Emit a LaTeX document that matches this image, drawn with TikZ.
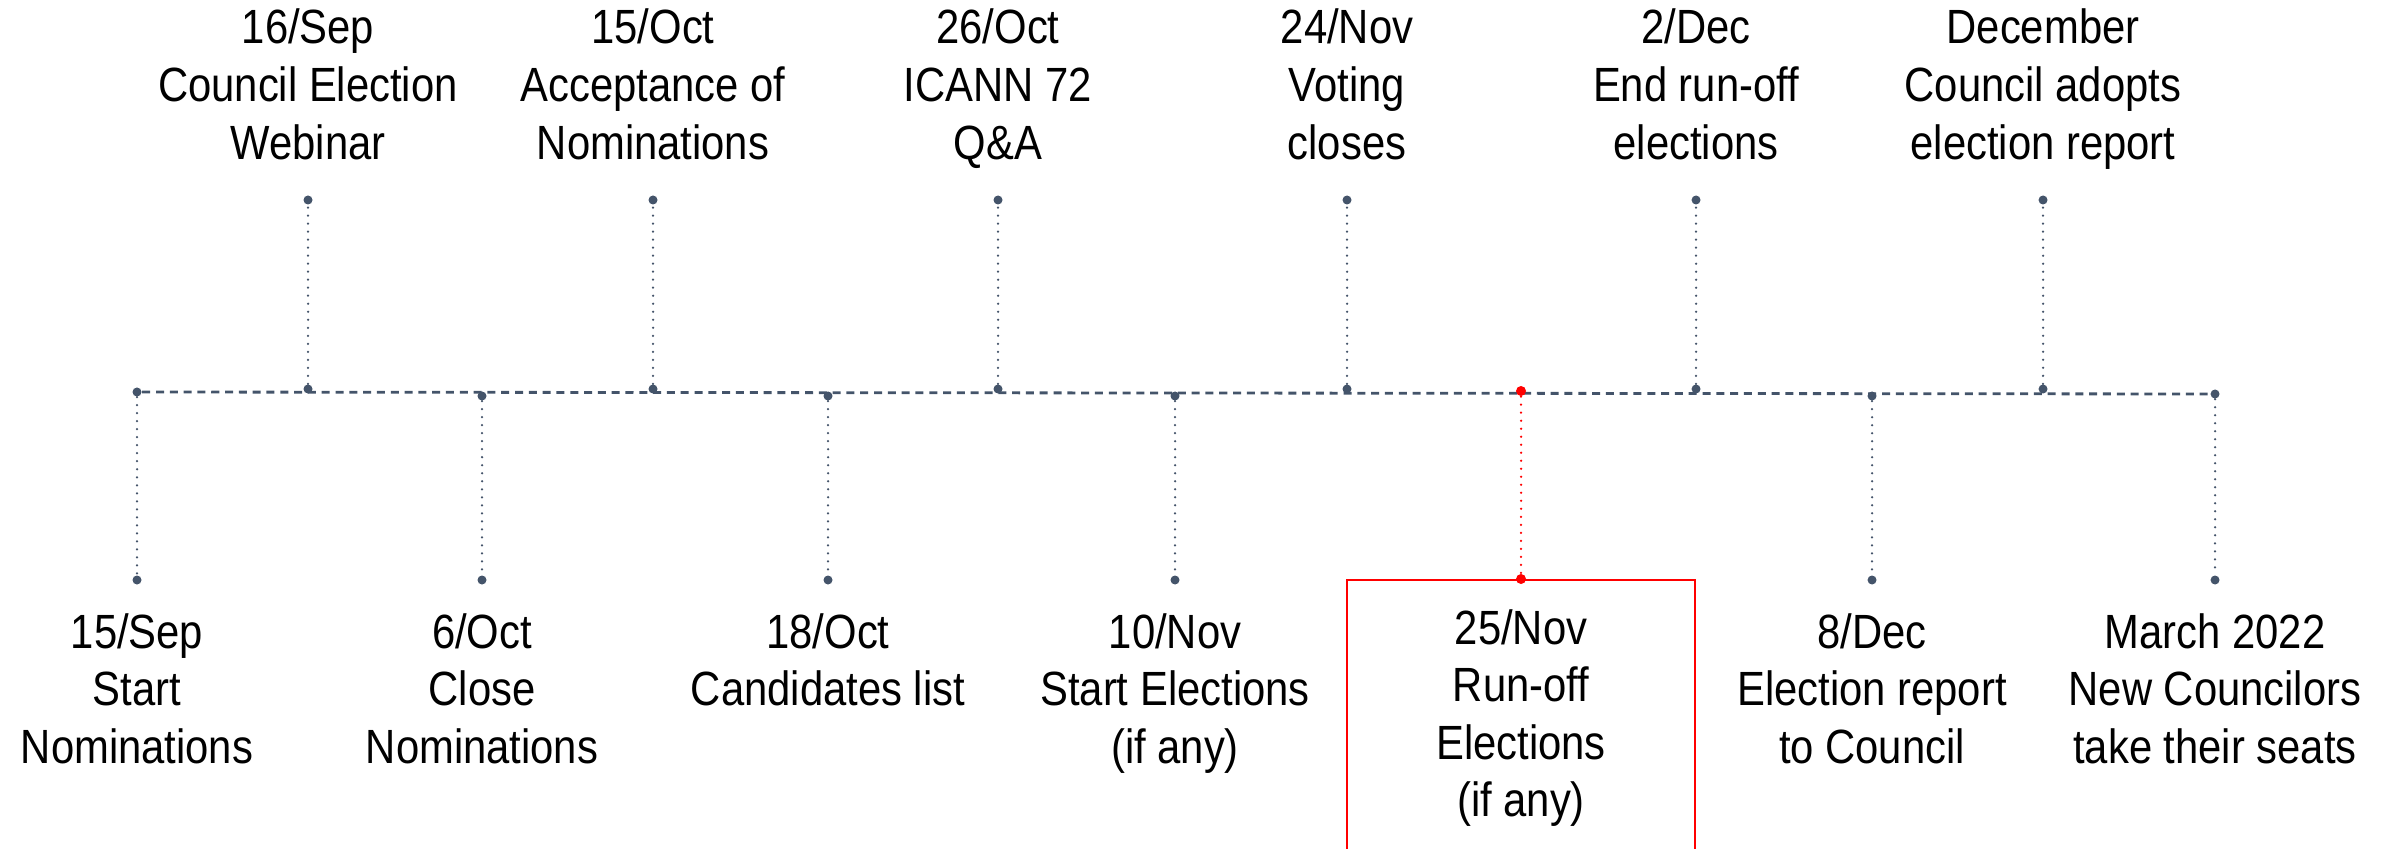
\documentclass[tikz,border=0pt]{standalone}
\usepackage{fontspec}
\setmainfont{Liberation Sans}[FakeStretch=0.87]
\usepackage{tikz}
\usetikzlibrary{positioning,backgrounds}
\usepackage{xcolor}
\definecolor{slate}{HTML}{44546A}
\tikzset{
	tl dot/.style={circle, fill=slate, inner sep=0pt, minimum size=.09cm},
	red dot/.style={circle, fill=red, inner sep=0pt, minimum size=.1cm},
	stem/.style={slate, line width=.025cm, line cap=round, dash pattern=on 0pt off .08cm},
	timeline/.style={slate, line width=.028cm, dash pattern=on .08cm off .058cm},
	up label/.style={align=center, inner sep=0pt},
	down label/.style={align=center, inner sep=0pt},
	run box/.style={draw=red, line width=.022cm, align=center, minimum width=3.48cm, inner xsep=0pt, inner ysep=.256cm}
}
\newcommand{\capstrut}{\rule{0pt}{.8em}}
\newcommand{\descstrut}{\rule[-.25em]{0pt}{0pt}}
\newcommand{\upevent}[3]{
	\node[tl dot] (#1) at (#2,389) {};
	\node[tl dot] (#1top) at (#2,200) {};
	\draw[stem] (#1) -- (#1top);
	\node[up label, above=.23cm of #1top] (#1text) {#3\descstrut};
}
\newcommand{\downevent}[4]{
	\node[tl dot] (#1) at (#2,#3) {};
	\node[tl dot] (#1bot) at (#2,580) {};
	\draw[stem] (#1) -- (#1bot);
	\node[down label, below=.24cm of #1bot] (#1text) {\capstrut#4};
}

\begin{document}
\begin{tikzpicture}[x=.01cm, y=-.01cm, font=\fontsize{13.66pt}{16.36pt}\selectfont]
	\clip (0,0) rectangle (2392,849);
%
	\downevent{e0}{137}{392}{15/Sep\\Start\\Nominations}
	\upevent{e1}{308}{16/Sep\\Council Election\\Webinar}
	\downevent{e2}{482}{396}{6/Oct\\Close\\Nominations}
	\upevent{e3}{653}{15/Oct\\Acceptance of\\Nominations}
	\downevent{e4}{828}{396}{18/Oct\\Candidates list}
	\upevent{e5}{998}{26/Oct\\ICANN 72\\Q\&A}
	\downevent{e6}{1175}{396}{10/Nov\\Start Elections\\(if any)}
	\upevent{e7}{1347}{24/Nov\\Voting\\closes}
%	run-off, boxed in red
	\node[red dot] (e8) at (1521,391) {};
	\node[run box, anchor=north] (e8box) at (1521,579) {\capstrut 25/Nov\\Run-off\\Elections\\(if any)\rule[-.4em]{0pt}{0pt}};
	\node[red dot] (e8bot) at (e8box.north) {};
	\draw[stem, red] (e8) -- (e8bot);
%
	\upevent{e9}{1696}{2/Dec\\End run-off\\elections}
	\downevent{e10}{1872}{396}{8/Dec\\Election report\\to Council}
	\upevent{e11}{2043}{December\\Council adopts\\election report}
	\downevent{e12}{2215}{394}{March 2022\\New Councilors\\take their seats}
%
	\begin{scope}[on background layer]
		\draw[timeline] (e0) -- (e12);
	\end{scope}
\end{tikzpicture}
\end{document}
